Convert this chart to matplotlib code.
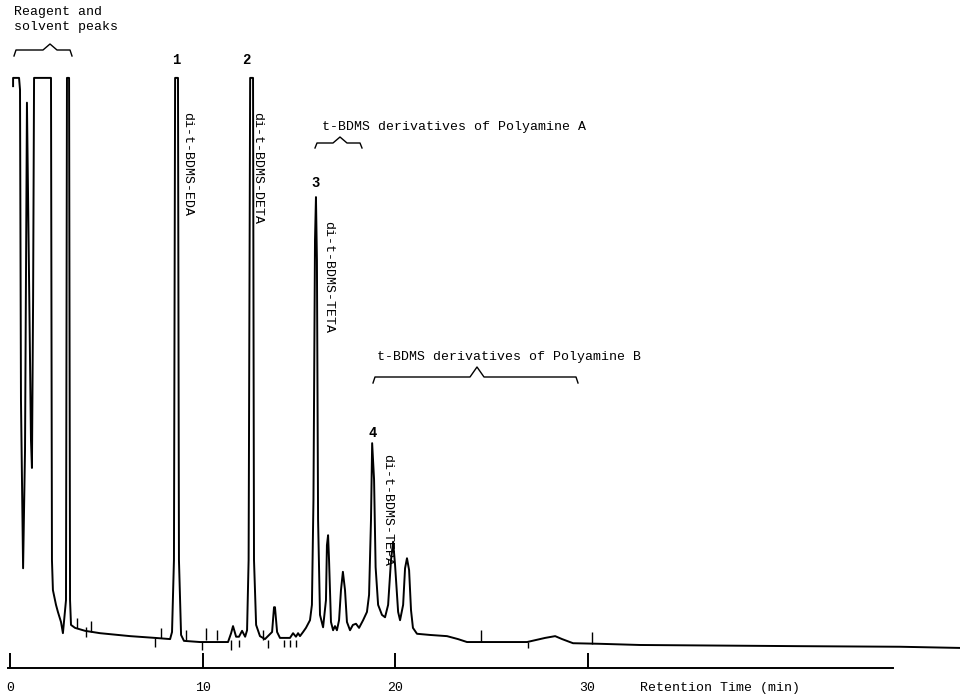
import matplotlib
matplotlib.use('Agg')
import matplotlib.pyplot as plt
from matplotlib.lines import Line2D

matplotlib.rcParams['font.family'] = ['Liberation Mono', 'DejaVu Sans Mono']
matplotlib.rcParams['font.size'] = 9.5

# detector trace: retention time (min) and signal (% full scale)
trace_time = [0.14, 0.14, 0.45, 0.50, 0.55, 0.66, 0.76, 0.86, 0.92, 1.07,
              1.12, 1.18, 1.23, 2.11, 2.16, 2.21, 2.37, 2.47, 2.63, 2.73,
              2.89, 2.94, 3.05, 3.10, 3.15, 3.36, 3.88, 4.66, 6.22, 7.52,
              8.30, 8.40, 8.50, 8.56, 8.71, 8.76, 8.87, 9.02, 9.85, 11.31,
              11.47, 11.57, 11.73, 11.88, 12.04, 12.20, 12.30, 12.38, 12.46, 12.61,
              12.66, 12.77, 12.97, 13.23, 13.60, 13.70, 13.75, 13.86, 14.01, 14.53,
              14.69, 14.84, 14.95, 15.05, 15.21, 15.36, 15.57, 15.67, 15.75, 15.83,
              15.88, 15.93, 15.99, 16.09, 16.25, 16.40, 16.45, 16.51, 16.56, 16.66,
              16.77, 16.87, 16.97, 17.08, 17.18, 17.28, 17.39, 17.49, 17.65, 17.80,
              17.96, 18.12, 18.33, 18.53, 18.64, 18.74, 18.80, 18.90, 18.98, 19.11,
              19.31, 19.47, 19.63, 19.78, 19.89, 19.99, 20.15, 20.25, 20.41, 20.51,
              20.61, 20.72, 20.82, 20.92, 21.13, 21.81, 22.69, 23.26, 23.73, 25.45,
              26.85, 27.79, 28.31, 28.67, 29.24, 30.64, 32.72, 41.04, 46.24, 49.36]
trace_signal = [98.6, 100, 100, 98.0, 45.4, 16.9, 36.9, 95.8, 79.3, 38.6,
                33.9, 62.4, 100, 100, 18.3, 13.2, 10.7, 9.5, 7.8, 5.9,
                11.5, 100, 100, 11.5, 7.3, 6.8, 6.3, 5.9, 5.4, 5.1,
                4.9, 6.1, 18.3, 100, 100, 18.3, 5.6, 4.6, 4.4, 4.4,
                5.9, 7.1, 5.3, 5.3, 6.3, 5.3, 6.4, 18.3, 100, 100,
                18.3, 7.3, 5.4, 4.9, 6.1, 10.3, 10.3, 6.1, 5.1, 5.1,
                5.9, 5.3, 5.9, 5.4, 6.1, 6.8, 8.1, 10.7, 28.5, 72.5,
                79.8, 69.2, 25.1, 9.0, 6.9, 11.5, 20.8, 22.5, 18.3, 7.8,
                6.4, 7.1, 6.4, 8.1, 13.2, 16.3, 13.2, 7.8, 6.4, 7.3,
                7.5, 6.8, 8.1, 9.5, 12.4, 25.1, 38.1, 31.9, 17.1, 10.7,
                9.0, 8.6, 10.7, 18.3, 21.4, 17.5, 9.5, 8.1, 10.7, 16.9,
                18.6, 16.6, 9.8, 6.8, 5.8, 5.6, 5.4, 4.9, 4.4, 4.4,
                4.4, 5.1, 5.4, 4.9, 4.2, 4.1, 3.9, 3.7, 3.6, 3.4]

# small integrator event marks on the baseline
mark_time = [3.46, 3.93, 4.19, 7.52, 7.83, 9.13, 9.96, 10.17, 10.74, 11.47,
             11.88, 13.13, 13.39, 14.22, 14.53, 14.84, 24.46, 26.90, 30.23]
mark_low = [6.8, 5.3, 6.1, 3.6, 5.1, 4.7, 3.1, 4.7, 4.7, 3.1,
            3.6, 4.7, 3.4, 3.6, 3.6, 3.6, 4.4, 3.4, 4.1]
mark_high = [8.5, 6.9, 8.0, 5.1, 6.8, 6.4, 4.4, 6.8, 6.4, 4.7,
             4.7, 6.4, 4.7, 4.7, 4.7, 4.7, 6.4, 4.4, 6.1]

# numbered peaks and compound names
peak_num = ['1', '2', '3', '4']
peak_num_t = [8.61, 12.25, 15.88, 18.85]
peak_num_s = [103.1, 103.1, 82.2, 39.8]
compounds = ['di-t-BDMS-EDA', 'di-t-BDMS-DETA', 'di-t-BDMS-TETA', 'di-t-BDMS-TEPA']
compound_t = [9.18, 12.82, 16.51, 19.57]
compound_s = [85.4, 84.7, 66.3, 26.8]

x_ticks = [0, 10, 20, 30]

W, H = 960, 695


def brace(fig, x0, x1, xm, y, tip, end):
    # curly brace in pixel coords (y down)
    xs = [x0, x0 + 2, xm - 7, xm, xm + 7, x1 - 2, x1]
    ys = [end, y, y, tip, y, y, end]
    fig.add_artist(Line2D([x / W for x in xs], [1 - v / H for v in ys],
                          transform=fig.transFigure, color='black', lw=1.0))


fig = plt.figure(figsize=(9.6, 6.95), dpi=100)
ax = fig.add_axes([0, 27 / H, 1, 668 / H])
ax.set_xlim(-0.54, 49.35)
ax.set_ylim(0, 113.2)

ax.plot(trace_time, trace_signal, color='black', lw=1.4, solid_joinstyle='round')
ax.vlines(mark_time, mark_low, mark_high, color='black', lw=1.0)

for lab, t, s in zip(peak_num, peak_num_t, peak_num_s):
    ax.text(t, s, lab, ha='center', va='center', fontsize=10, fontweight='bold')
for lab, t, s in zip(compounds, compound_t, compound_s):
    ax.text(t, s, lab, ha='center', va='center', rotation=270, fontsize=9.5)

for side in ['top', 'left', 'right']:
    ax.spines[side].set_visible(False)
ax.spines['bottom'].set_bounds(-0.12, 45.87)
ax.spines['bottom'].set_linewidth(1.4)
ax.set_yticks([])
ax.set_xticks(x_ticks)
ax.set_xticklabels([str(v) for v in x_ticks])
ax.tick_params(axis='x', direction='in', length=11, width=1.4, pad=10, labelsize=9.5)

fig.text(14 / W, 1 - 6 / H, 'Reagent and\nsolvent peaks', ha='left', va='top',
         linespacing=1.3, fontsize=9.5)
brace(fig, 14, 72, 50, 50, 44, 56)

fig.text(322 / W, 1 - 127 / H, 't-BDMS derivatives of Polyamine A', ha='left',
         va='center', fontsize=9.5)
brace(fig, 315, 362, 340, 143, 137, 148)

fig.text(377 / W, 1 - 357 / H, 't-BDMS derivatives of Polyamine B', ha='left',
         va='center', fontsize=9.5)
brace(fig, 373, 578, 477, 377, 367, 383)

fig.text(640 / W, 1 - 688 / H, 'Retention Time (min)', ha='left', va='center',
         fontsize=9.5)

fig.savefig('out.png', dpi=100)
